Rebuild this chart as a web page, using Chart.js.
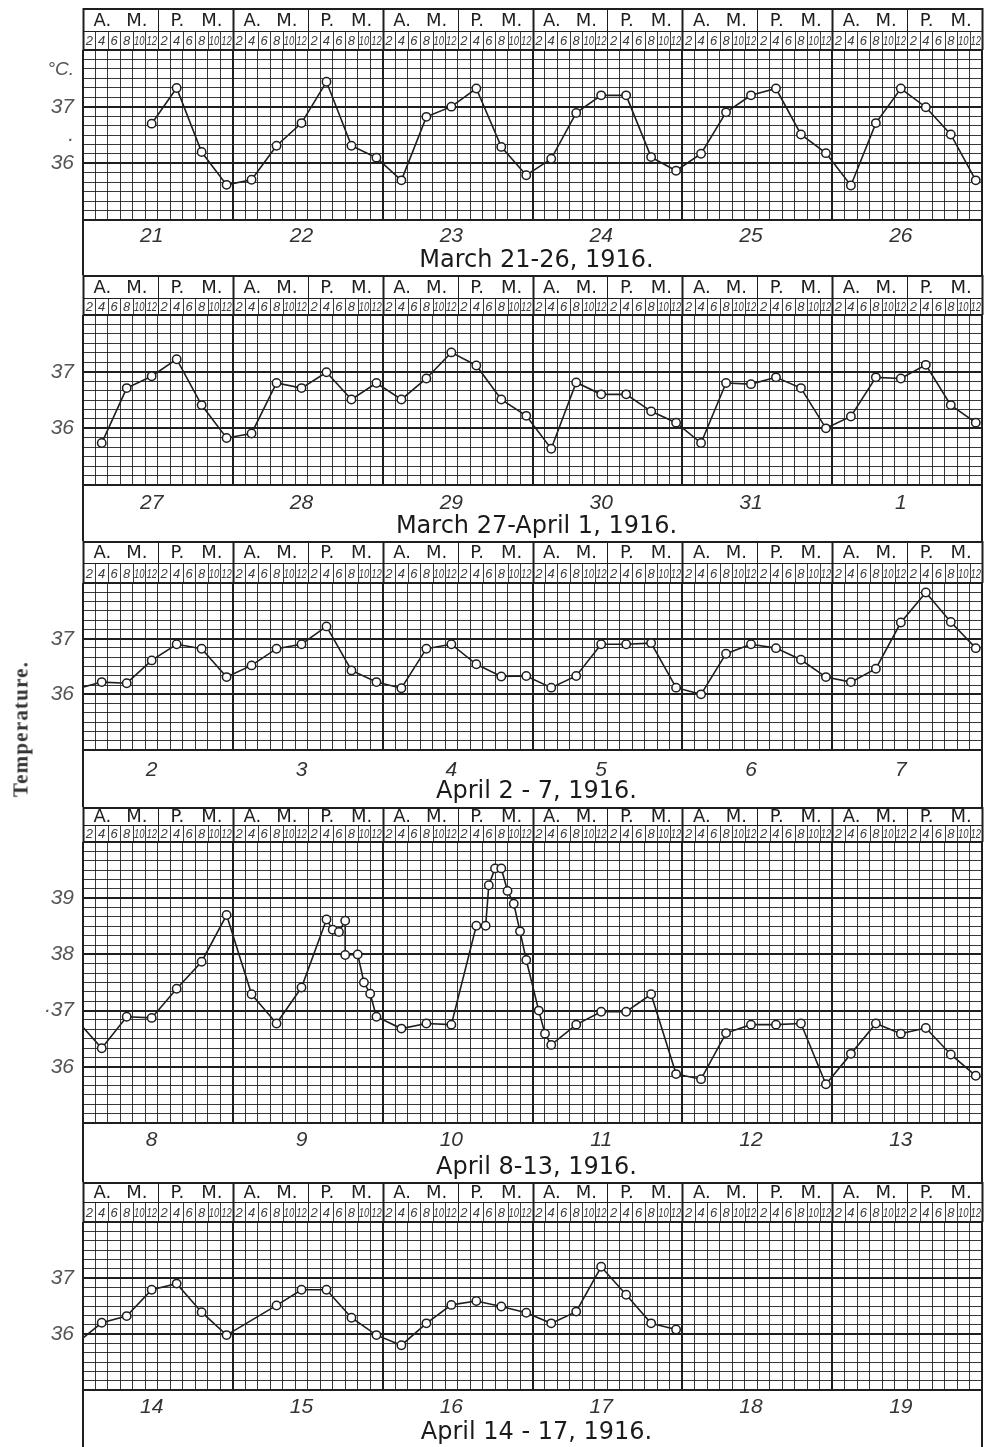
<!DOCTYPE html>
<html>
<head>
<meta charset="utf-8">
<script src="https://cdn.jsdelivr.net/npm/chart.js@4.4.0/dist/chart.umd.min.js"></script>
<style>
  body { margin: 0; background: #fff; }
  #page { position: relative; width: 990px; height: 1447px; overflow: hidden; background: #fff; }
  canvas.panel { position: absolute; left: 0; }
  #ylab {
    position: absolute; left: 21px; top: 729px;
    transform: translate(-50%, -50%) rotate(-90deg);
    font: bold 21px "Liberation Serif", serif; letter-spacing: 1.2px;
    color: #333; white-space: nowrap;
  }
</style>
</head>
<body>
<div id="page">
  <canvas id="p1" class="panel"></canvas>
  <canvas id="p2" class="panel"></canvas>
  <canvas id="p3" class="panel"></canvas>
  <canvas id="p4" class="panel"></canvas>
  <canvas id="p5" class="panel"></canvas>
  <div id="ylab">Temperature.</div>
</div>
<script>
// hour of each reading, counted from the midnight before the first day of a sheet
// (4 = 4 a.m. of day one, 24 = its midnight, 28 = 4 a.m. of day two ...)
var hours4 = [4, 8, 12, 16, 20, 24, 28, 32, 36, 40, 44, 48, 52, 56, 60, 64, 68, 72,
              76, 80, 84, 88, 92, 96, 100, 104, 108, 112, 116, 120, 124, 128, 132, 136, 140, 144];
var hourMarks = ['2', '4', '6', '8', '10', '12'];

// sheet 1: March 21-26
var days1 = ['21', '22', '23', '24', '25', '26'];
var temps1 = [null, null, 36.7, 37.33, 36.2, 35.62,
              35.71, 36.31, 36.71, 37.44, 36.31, 36.1,
              35.7, 36.82, 37.0, 37.32, 36.29, 35.79,
              36.08, 36.89, 37.2, 37.2, 36.11, 35.87,
              36.17, 36.9, 37.2, 37.32, 36.51, 36.18,
              35.61, 36.71, 37.32, 36.99, 36.51, 35.7];
var yTicks1 = [36, 36.5, 37];
var yText1 = ['36', '.', '37'];

// sheet 2: March 27 - April 1
var days2 = ['27', '28', '29', '30', '31', '1'];
var temps2 = [35.74, 36.71, 36.92, 37.22, 36.41, 35.83,
              35.91, 36.8, 36.71, 36.99, 36.51, 36.8,
              36.51, 36.88, 37.34, 37.11, 36.51, 36.22,
              35.64, 36.81, 36.6, 36.6, 36.3, 36.1,
              35.74, 36.8, 36.78, 36.9, 36.71, 36.0,
              36.21, 36.9, 36.88, 37.12, 36.41, 36.1];

// sheet 3: April 2-7
var days3 = ['2', '3', '4', '5', '6', '7'];
var temps3 = [36.22, 36.2, 36.61, 36.9, 36.82, 36.31,
              36.52, 36.82, 36.9, 37.22, 36.43, 36.22,
              36.11, 36.82, 36.9, 36.54, 36.32, 36.33,
              36.12, 36.33, 36.9, 36.9, 36.92, 36.12,
              36.0, 36.73, 36.9, 36.83, 36.62, 36.31,
              36.22, 36.46, 37.29, 37.83, 37.3, 36.83];

// sheet 4: April 8-13 (hourly readings during the fever)
var days4 = ['8', '9', '10', '11', '12', '13'];
var hours4th = [4, 8, 12, 16, 20, 24,
                28, 32, 36, 40, 41, 42, 43, 43, 45, 46, 47, 48,
                52, 56, 60, 64, 65.5, 66, 67, 68, 69, 70, 71, 72,
                74, 75, 76, 80, 84, 88, 92, 96,
                100, 104, 108, 112, 116, 120,
                124, 128, 132, 136, 140, 144];
var temps4th = [36.33, 36.89, 36.87, 37.39, 37.87, 38.7,
                37.29, 36.77, 37.41, 38.62, 38.44, 38.4, 38.6, 37.99, 38.0, 37.5, 37.3, 36.89,
                36.68, 36.77, 36.75, 38.51, 38.51, 39.23, 39.53, 39.53, 39.13, 38.9, 38.41, 37.9,
                37.0, 36.59, 36.39, 36.75, 36.98, 36.98, 37.29, 35.87,
                35.78, 36.6, 36.75, 36.75, 36.77, 35.69,
                36.23, 36.77, 36.59, 36.69, 36.22, 35.84];
var yTicks4 = [36, 37, 38, 39];
var yText4 = ['36', '·37', '38', '39'];

// sheet 5: April 14-19 (readings stop on the 17th)
var days5 = ['14', '15', '16', '17', '18', '19'];
var temps5 = [36.2, 36.32, 36.79, 36.9, 36.39, 35.98,
              null, 36.51, 36.79, 36.79, 36.29, 35.98,
              35.8, 36.19, 36.52, 36.59, 36.49, 36.38,
              36.19, 36.4, 37.2, 36.7, 36.19, 36.08,
              null, null, null, null, null, null,
              null, null, null, null, null, null];

var yTicks = [36, 37];
var yText = ['36', '37'];

var INK = '#1e1e1e';
var GRID = 'rgba(30,30,30,0.88)';

var panels = [
  { id: 'p1', top: 0, height: 275, headTop: 8, row1: 23, gridTop: 50, gridBottom: 220, dateY: 236, titleY: 261,
    min: 35, max: 38, ticks: yTicks1, text: yText1, days: days1, title: 'March 21-26, 1916.',
    hours: hours4, temps: temps1, lead: null, unit: '°C.' },
  { id: 'p2', top: 275, height: 266, headTop: 0, row1: 23, gridTop: 40, gridBottom: 210, dateY: 228, titleY: 252,
    min: 35, max: 38, ticks: yTicks, text: yText, days: days2, title: 'March 27-April 1, 1916.',
    hours: hours4, temps: temps2, lead: null },
  { id: 'p3', top: 541, height: 266, headTop: 0, row1: 22, gridTop: 42, gridBottom: 209, dateY: 229, titleY: 251,
    min: 35, max: 38, ticks: yTicks, text: yText, days: days3, title: 'April 2 - 7, 1916.',
    hours: hours4, temps: temps3, lead: temps2[temps2.length - 1] },
  { id: 'p4', top: 807, height: 375, headTop: 0, row1: 18, gridTop: 35, gridBottom: 316, dateY: 333, titleY: 361,
    min: 35, max: 40, ticks: yTicks4, text: yText4, days: days4, title: 'April 8-13, 1916.',
    hours: hours4th, temps: temps4th, lead: temps3[temps3.length - 1] },
  { id: 'p5', top: 1182, height: 265, headTop: 0, row1: 20, gridTop: 40, gridBottom: 208, dateY: 225, titleY: 251,
    min: 35, max: 38, ticks: yTicks, text: yText, days: days5, title: 'April 14 - 17, 1916.',
    hours: hours4, temps: temps5, lead: temps4th[temps4th.length - 1] }
];

function isWhole(v) { return Math.abs(v - Math.round(v)) < 1e-9; }

// header rows (A.M./P.M. and hours), date strip and title around the grid
var sheet = {
  id: 'sheet',
  afterDraw: function (chart, args, o) {
    var ctx = chart.ctx, xs = chart.scales.x, a = chart.chartArea;
    var L = a.left, R = a.right, top = o.headTop, mid = o.headTop + o.row1, bot = a.top;
    function seg(x1, y1, x2, y2, w) {
      ctx.lineWidth = w; ctx.beginPath(); ctx.moveTo(x1, y1); ctx.lineTo(x2, y2); ctx.stroke();
    }
    ctx.save();
    ctx.strokeStyle = INK;
    ctx.fillStyle = INK;
    for (var v = 1; v <= 145; v += 2) {
      var px = Math.round(xs.getPixelForValue(v)) + 0.5;
      var day = (v - 1) % 24 === 0, half = (v - 1) % 12 === 0;
      ctx.strokeStyle = half ? INK : GRID;
      seg(px, half ? top : mid, px, bot, day ? 2 : 1);
    }
    ctx.strokeStyle = INK;
    seg(L, top + 1, R, top + 1, 2);
    seg(L, mid + 0.5, R, mid + 0.5, 1);
    seg(L, bot, R, bot, 2);

    ctx.textAlign = 'center';
    ctx.textBaseline = 'middle';
    ctx.font = '18px "DejaVu Sans"';
    for (var h = 0; h < 12; h++) {
      var x0 = xs.getPixelForValue(1 + 12 * h), x1 = xs.getPixelForValue(13 + 12 * h), w = x1 - x0;
      var ty = (top + mid) / 2 + 1.5;
      ctx.fillText(h % 2 ? 'P.' : 'A.', x0 + w * 0.26, ty);
      ctx.fillText('M.', x0 + w * 0.72, ty);
    }
    ctx.font = 'italic 13px "Liberation Sans Narrow", "Liberation Sans"';
    ctx.fillStyle = '#3a3a3a';
    for (var c = 0; c < 72; c++) {
      ctx.fillText(hourMarks[c % 6], xs.getPixelForValue(2 + 2 * c), (mid + bot) / 2 + 1, 10.5);
    }

    // sides of the date strip
    ctx.strokeStyle = INK;
    seg(L, a.bottom, L, chart.height, 2);
    seg(R, a.bottom, R, chart.height, 2);

    ctx.fillStyle = '#333';
    ctx.font = 'italic 21px "Liberation Sans"';
    o.days.forEach(function (d, i) {
      ctx.fillText(d, xs.getPixelForValue(24 * i + 12), o.dateY);
    });
    ctx.fillStyle = '#1a1a1a';
    ctx.font = '24px "DejaVu Sans"';
    ctx.fillText(o.title, (L + R) / 2 + 4, o.titleY);

    if (o.unit) {
      ctx.fillStyle = '#555';
      ctx.font = 'italic 19px "Liberation Sans"';
      ctx.textAlign = 'right';
      ctx.fillText(o.unit, L - 9, a.top + 20);
    }
    ctx.restore();
  }
};

panels.forEach(function (p) {
  var cv = document.getElementById(p.id);
  cv.width = 990;
  cv.height = p.height;
  cv.style.top = p.top + 'px';
  cv.style.width = '990px';
  cv.style.height = p.height + 'px';

  var pts = [];
  if (p.lead !== null) pts.push({ x: 0, y: p.lead });   // line comes in from the previous midnight
  p.hours.forEach(function (h, i) { pts.push({ x: h, y: p.temps[i] }); });

  new Chart(cv, {
    type: 'line',
    data: {
      datasets: [{
        data: pts,
        borderColor: INK,
        borderWidth: 1.6,
        pointRadius: 4.2,
        pointBorderWidth: 1.5,
        pointBorderColor: INK,
        pointBackgroundColor: '#fff',
        tension: 0,
        spanGaps: true
      }]
    },
    options: {
      responsive: false,
      animation: false,
      events: [],
      layout: { padding: { left: 0, right: 8, top: p.gridTop, bottom: p.height - p.gridBottom } },
      plugins: {
        legend: { display: false },
        tooltip: { enabled: false },
        sheet: { headTop: p.headTop, row1: p.row1, dateY: p.dateY, titleY: p.titleY,
                 days: p.days, title: p.title, unit: p.unit }
      },
      scales: {
        x: {
          type: 'linear', min: 1, max: 145,
          border: { display: false },
          ticks: { display: false },
          grid: {
            drawTicks: false,
            color: function (c) { return (c.tick.value - 1) % 24 === 0 ? INK : GRID; },
            lineWidth: function (c) { return (c.tick.value - 1) % 24 === 0 ? 2 : 1; }
          },
          afterBuildTicks: function (s) {
            s.ticks = [];
            for (var v = 1; v <= 145; v += 2) s.ticks.push({ value: v });
          }
        },
        y: {
          type: 'linear', min: p.min, max: p.max,
          border: { display: false },
          ticks: {
            autoSkip: false,
            padding: 9,
            color: '#555',
            font: { family: 'Liberation Sans', style: 'italic', size: 21 },
            callback: function (v) {
              for (var i = 0; i < p.ticks.length; i++) {
                if (Math.abs(v - p.ticks[i]) < 1e-6) return p.text[i];
              }
              return '';
            }
          },
          grid: {
            drawTicks: false,
            color: function (c) { return isWhole(c.tick.value) ? INK : GRID; },
            lineWidth: function (c) { return isWhole(c.tick.value) ? 2 : 1; }
          },
          afterBuildTicks: function (s) {
            s.ticks = [];
            var n = Math.round((p.max - p.min) * 6);
            for (var k = 0; k <= n; k++) s.ticks.push({ value: p.min + k / 6 });
          },
          afterFit: function (s) { s.width = 83; }
        }
      }
    },
    plugins: [sheet]
  });
});
</script>
</body>
</html>
